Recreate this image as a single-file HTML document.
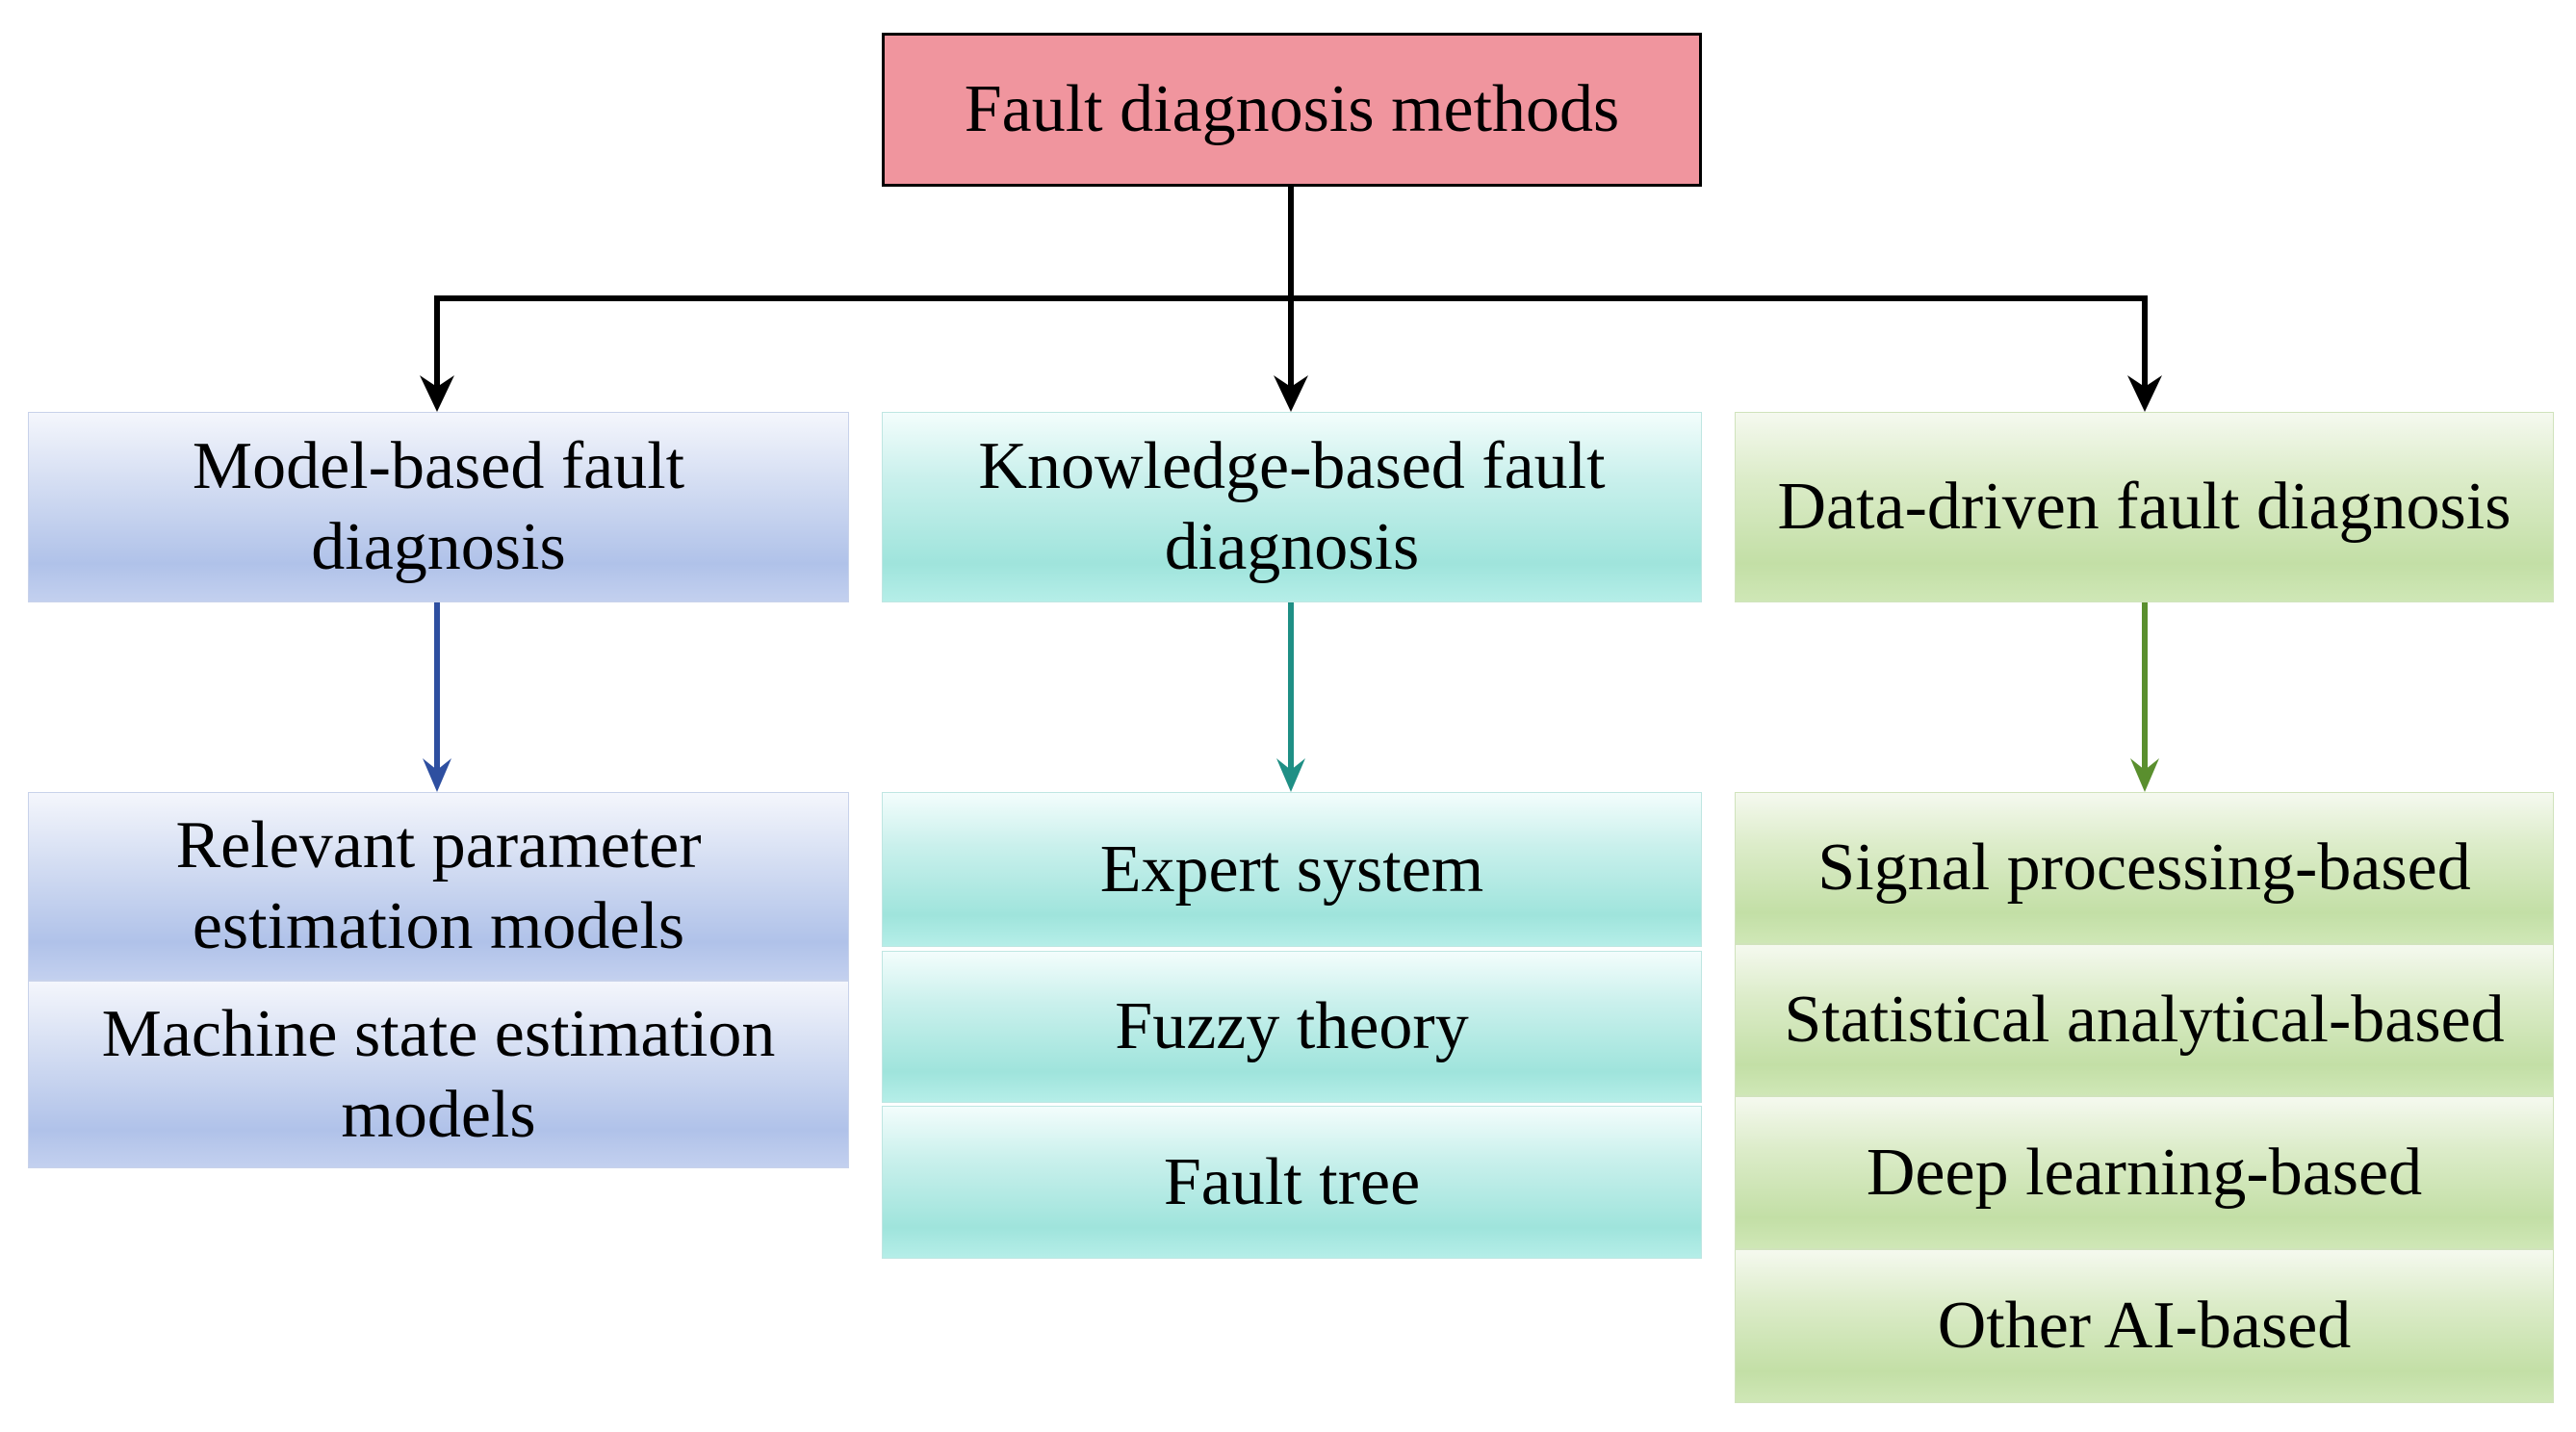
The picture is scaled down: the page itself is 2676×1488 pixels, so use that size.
<!DOCTYPE html>
<html><head><meta charset="utf-8"><style>
body{margin:0;width:2676px;height:1488px;background:#fff;position:relative;overflow:hidden;font-family:"Liberation Serif",serif;}
.b{position:absolute;display:flex;align-items:center;justify-content:center;text-align:center;font-size:70px;line-height:84px;color:#000;box-sizing:border-box;}
.bl{background:linear-gradient(#f4f6fc 0%,#d6dff3 35%,#b0c2e9 80%,#c3d0ef 100%);border:1px solid #c8d2ea;}
.tl{background:linear-gradient(#f3fdfc 0%,#c9f0ec 35%,#9fe4dc 80%,#b5eee8 100%);border:1px solid #bfe6e2;}
.gr{background:linear-gradient(#f5f9ef 0%,#dcecc9 35%,#c3dfa6 80%,#cfe7b6 100%);border:1px solid #d0e3bc;}
</style></head><body>
<div class="b" style="left:916px;top:34px;width:852px;height:160px;background:#f0959e;border:3px solid #000;">Fault diagnosis methods</div>
<svg width="2676" height="1488" style="position:absolute;left:0;top:0">
<g stroke="#000" stroke-width="6" fill="none">
<path d="M1341 194 V310 M454 310 H2228 M454 307 V410 M1341 310 V410 M2228 307 V410"/>
</g>
<g fill="#000">
<path d="M436 390 L454 428 L472 390 L454 402Z"/>
<path d="M1323 390 L1341 428 L1359 390 L1341 402Z"/>
<path d="M2210 390 L2228 428 L2246 390 L2228 402Z"/>
</g>
<path d="M454 626 V810" stroke="#2e4fa0" stroke-width="6"/><path d="M439 788 L454 823 L469 788 L454 800Z" fill="#2e4fa0"/>
<path d="M1341 626 V810" stroke="#1f8f85" stroke-width="6"/><path d="M1326 788 L1341 823 L1356 788 L1341 800Z" fill="#1f8f85"/>
<path d="M2228 626 V810" stroke="#5a8f2e" stroke-width="6"/><path d="M2213 788 L2228 823 L2243 788 L2228 800Z" fill="#5a8f2e"/>
</svg>
<div class="b bl" style="left:29px;top:428px;width:853px;height:198px;">Model-based fault<br>diagnosis</div>
<div class="b tl" style="left:916px;top:428px;width:852px;height:198px;">Knowledge-based fault<br>diagnosis</div>
<div class="b gr" style="left:1802px;top:428px;width:851px;height:198px;">Data-driven fault diagnosis</div>
<div class="b bl" style="left:29px;top:823px;width:853px;height:196px;">Relevant parameter<br>estimation models</div>
<div class="b bl" style="left:29px;top:1019px;width:853px;height:195px;">Machine state estimation<br>models</div>
<div class="b tl" style="left:916px;top:823px;width:852px;height:161px;">Expert system</div>
<div class="b tl" style="left:916px;top:988px;width:852px;height:158px;">Fuzzy theory</div>
<div class="b tl" style="left:916px;top:1149px;width:852px;height:159px;">Fault tree</div>
<div class="b gr" style="left:1802px;top:823px;width:851px;height:158px;">Signal processing-based</div>
<div class="b gr" style="left:1802px;top:981px;width:851px;height:158px;">Statistical analytical-based</div>
<div class="b gr" style="left:1802px;top:1139px;width:851px;height:159px;">Deep learning-based</div>
<div class="b gr" style="left:1802px;top:1298px;width:851px;height:160px;">Other AI-based</div>
</body></html>
